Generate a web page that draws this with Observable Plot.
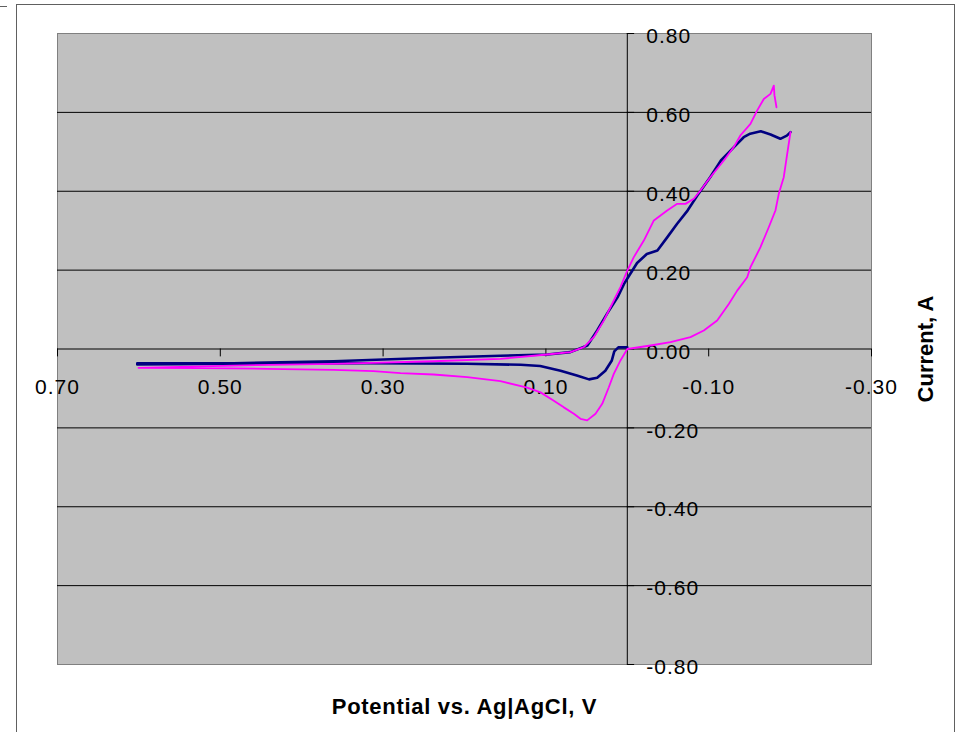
<!DOCTYPE html>
<html>
<head>
<meta charset="utf-8">
<script src="https://cdn.jsdelivr.net/npm/d3@7"></script>
<script src="https://cdn.jsdelivr.net/npm/@observablehq/plot@0.6"></script>
<style>
  html, body { margin: 0; padding: 0; background: #fff; }
  #wrap { position: relative; width: 958px; height: 732px; overflow: hidden; }
  #wrap svg { display: block; }
  #border { position: absolute; left: 16px; top: 4px; width: 937px; height: 760px; border: 1px solid #606060; pointer-events: none; }
  #mark { position: absolute; left: 0; top: 6px; width: 7px; height: 1px; background: #606060; }
</style>
</head>
<body>
<div id="wrap"><div id="border"></div><div id="mark"></div></div>
<script>
// X ticks (potential, V) and Y ticks (current, A)
const xTicks = [0.7, 0.5, 0.3, 0.1, -0.1, -0.3];
const xTickLabels = ["0.70", "0.50", "0.30", "0.10", "-0.10", "-0.30"];
const yTicks = [0.8, 0.6, 0.4, 0.2, 0.0, -0.2, -0.4, -0.6, -0.8];
const yTickLabels = ["0.80", "0.60", "0.40", "0.20", "0.00", "-0.20", "-0.40", "-0.60", "-0.80"];
const gridY = [0.6, 0.4, 0.2, 0.0, -0.2, -0.4, -0.6];

// Navy series: potential (V) and current (A), in scan order
const navyV = [0.000, 0.011, 0.016, 0.019, 0.027, 0.037, 0.047, 0.062, 0.082, 0.107, 0.131, 0.197, 0.320, 0.442, 0.520, 0.602,
  0.602, 0.484, 0.361, 0.238, 0.156, 0.098, 0.070, 0.049, 0.037, 0.025, 0.012, 0.004, -0.002, -0.012, -0.024, -0.037,
  -0.049, -0.061, -0.074, -0.086, -0.102, -0.115, -0.131, -0.143, -0.151, -0.164, -0.176, -0.188, -0.196, -0.2005];
const navyI = [0.004, 0.004, -0.006, -0.029, -0.055, -0.073, -0.077, -0.067, -0.055, -0.043, -0.040, -0.0375, -0.036, -0.0375, -0.038, -0.039,
  -0.036, -0.036, -0.031, -0.022, -0.017, -0.014, -0.008, 0.009, 0.047, 0.089, 0.131, 0.165, 0.185, 0.218, 0.241, 0.250,
  0.283, 0.317, 0.351, 0.389, 0.436, 0.478, 0.512, 0.537, 0.546, 0.552, 0.544, 0.533, 0.541, 0.550];

// Magenta series: potential (V) and current (A), in scan order
const magentaV = [-0.2005, -0.1964, -0.1922, -0.1861, -0.182, -0.1738, -0.1636, -0.1513, -0.1473, -0.135, -0.1247, -0.1104, -0.094, -0.0776, -0.0531, -0.0285,
  0.000, 0.0084, 0.0166, 0.0227, 0.0308, 0.039, 0.0493, 0.0575, 0.0657, 0.078, 0.0903, 0.1066, 0.123, 0.1558, 0.1967, 0.238, 0.2786, 0.3118, 0.361, 0.4424, 0.5243, 0.6005,
  0.4838, 0.361, 0.238, 0.1558, 0.0984, 0.0698, 0.0534, 0.0412, 0.0289, 0.0166, 0.0084, 0.000, -0.008, -0.0203, -0.0326, -0.049, -0.0613, -0.0715, -0.0817, -0.0899,
  -0.1022, -0.1186, -0.1308, -0.1391, -0.1513, -0.1596, -0.1677, -0.1759, -0.180, -0.1808, -0.1833];
const magentaI = [0.5497, 0.494, 0.4356, 0.3935, 0.3511, 0.3088, 0.2581, 0.2074, 0.182, 0.148, 0.1141, 0.0723, 0.047, 0.030, 0.0172, 0.0089,
  0.000, -0.029, -0.063, -0.097, -0.139, -0.164, -0.181, -0.177, -0.164, -0.148, -0.131, -0.110, -0.098, -0.0816, -0.0715, -0.0647, -0.0614, -0.0563, -0.0527, -0.0502, -0.0487, -0.0477,
  -0.042, -0.0375, -0.031, -0.025, -0.014, -0.008, 0.0046, 0.030, 0.072, 0.123, 0.157, 0.199, 0.233, 0.275, 0.326, 0.351, 0.368, 0.368, 0.381, 0.402,
  0.436, 0.478, 0.512, 0.542, 0.571, 0.605, 0.634, 0.647, 0.668, 0.643, 0.613];

const xTitle = "Potential vs. Ag|AgCl, V";
const yTitle = "Current, A";

const navy = navyV.map((v, k) => ({v, i: navyI[k]}));
const magenta = magentaV.map((v, k) => ({v, i: magentaI[k]}));
const xt = xTicks.map((v, k) => ({v, label: xTickLabels[k]}));
const yt = yTicks.map((v, k) => ({v, label: yTickLabels[k]}));

const font = "'Liberation Sans', Arial, sans-serif";

const chart = Plot.plot({
  width: 958,
  height: 732,
  marginLeft: 57,
  marginRight: 87,
  marginTop: 33,
  marginBottom: 68,
  style: {background: "transparent", fontFamily: font},
  x: {domain: [0.7, -0.3], axis: null},
  y: {domain: [-0.8, 0.8], axis: null},
  marks: [
    Plot.frame({fill: "#c0c0c0", stroke: "#808080"}),
    Plot.ruleY(gridY, {stroke: "#000", strokeWidth: 1}),
    Plot.ruleX([0], {y1: -0.8, y2: 0.8, stroke: "#000", strokeWidth: 1}),
    // x tick marks (below the zero line)
    Plot.ruleX(xTicks, {y1: 0, y2: -0.02, stroke: "#000"}),
    // y tick marks (to the right of the zero line)
    Plot.ruleY(yTicks, {x1: 0, x2: -0.009, stroke: "#000"}),
    Plot.text(xt, {x: "v", y: () => 0, text: "label", dy: 38, fontSize: 21, fill: "#000", textAnchor: "middle", lineAnchor: "middle"}),
    Plot.text(yt, {x: () => 0, y: "v", text: "label", dx: 19, dy: 3, fontSize: 21, fill: "#000", textAnchor: "start", lineAnchor: "middle"}),
    Plot.line(navy, {x: "v", y: "i", stroke: "#000080", strokeWidth: 2.6, strokeLinejoin: "round"}),
    Plot.line(magenta, {x: "v", y: "i", stroke: "#ff00ff", strokeWidth: 1.8, strokeLinejoin: "round"}),
    Plot.text([xTitle], {frameAnchor: "bottom", dy: 42, fontSize: 22, fontWeight: "bold", fill: "#000", textAnchor: "middle", lineAnchor: "middle"}),
    Plot.text([yTitle], {frameAnchor: "right", dx: 54, rotate: -90, fontSize: 22, fontWeight: "bold", fill: "#000", textAnchor: "middle", lineAnchor: "middle"})
  ]
});
const tickSet = new Set([...xTickLabels, ...yTickLabels]);
d3.select(chart).selectAll("text").each(function () {
  const t = this.textContent;
  if (tickSet.has(t)) this.setAttribute("letter-spacing", "1px");
  else if (t === xTitle) this.setAttribute("letter-spacing", "0.7px");
});
document.getElementById("wrap").prepend(chart);
</script>
</body>
</html>
